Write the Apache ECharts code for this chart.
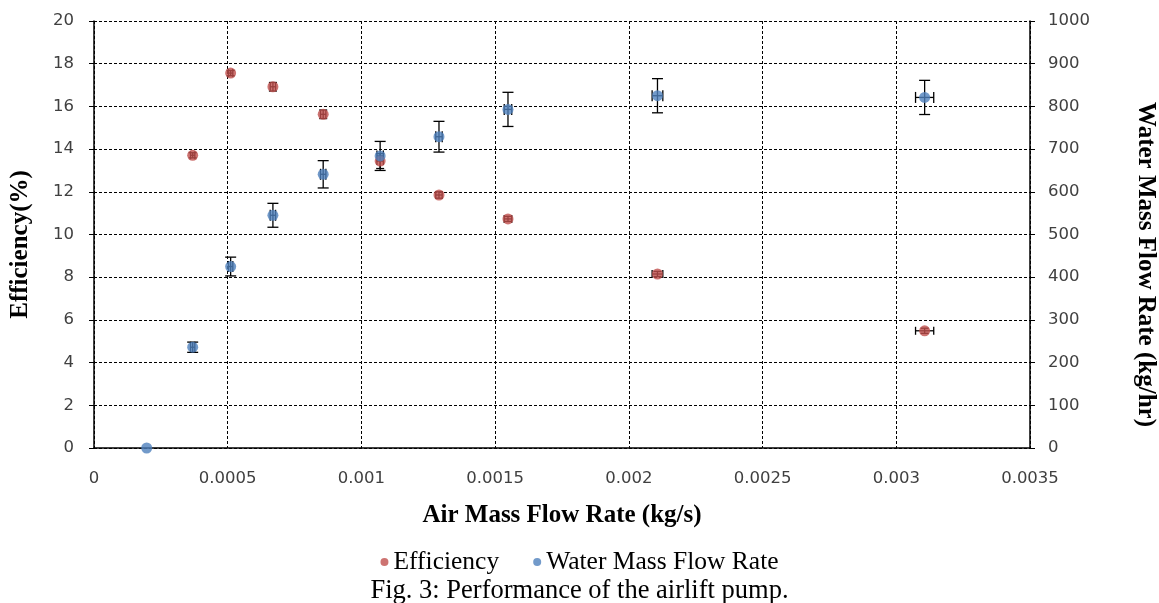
<!DOCTYPE html>
<html>
<head>
<meta charset="utf-8">
<script src="https://cdn.jsdelivr.net/npm/echarts@6/dist/echarts.min.js"></script>
<style>html,body{margin:0;padding:0;background:#fff}#c{width:1159px;height:603px}</style>
</head>
<body>
<div id="c"></div>
<script>
// Air mass flow rate (kg/s)
const airFlow = [0.000197, 0.000369, 0.000511, 0.000669, 0.000857, 0.00107, 0.00129, 0.001548, 0.002107, 0.003106];
const airFlowErr = [0.000008, 0.000008, 0.000008, 0.000010, 0.000010, 0.000012, 0.000012, 0.000014, 0.00002, 0.000034];
// Efficiency (%) – no visible point at the first flow rate
const efficiency = [null, 13.71, 17.56, 16.92, 15.63, 13.44, 11.85, 10.73, 8.15, 5.49];
const efficiencyErr = [null, 0.12, 0.12, 0.2, 0.2, 0.35, 0.15, 0.12, 0.12, 0.12];
// Water mass flow rate (kg/hr)
const waterFlow = [0, 236, 425, 545, 641, 684, 729, 793, 825, 821];
const waterFlowErr = [0, 12, 22, 28, 32, 34, 36, 40, 40, 40];

const effData = [], effErrData = [], watData = [], watErrData = [];
airFlow.forEach((x, i) => {
  if (efficiency[i] !== null) {
    effData.push([x, efficiency[i]]);
    effErrData.push([x, efficiency[i], airFlowErr[i], efficiencyErr[i]]);
  }
  watData.push([x, waterFlow[i]]);
  if (i > 0) watErrData.push([x, waterFlow[i], airFlowErr[i], waterFlowErr[i]]);
});

function makeErrorBars(cap) {
  return function (params, api) {
    const x = api.value(0), y = api.value(1), ex = api.value(2), ey = api.value(3);
    const c = api.coord([x, y]);
    const top = api.coord([x, y + ey]);
    const bot = api.coord([x, y - ey]);
    const lft = api.coord([x - ex, y]);
    const rgt = api.coord([x + ex, y]);
    const st = {stroke: '#000', lineWidth: 1.3};
    return {type: 'group', children: [
      {type: 'line', shape: {x1: c[0], y1: top[1], x2: c[0], y2: bot[1]}, style: st},
      {type: 'line', shape: {x1: c[0] - cap, y1: top[1], x2: c[0] + cap, y2: top[1]}, style: st},
      {type: 'line', shape: {x1: c[0] - cap, y1: bot[1], x2: c[0] + cap, y2: bot[1]}, style: st},
      {type: 'line', shape: {x1: lft[0], y1: c[1], x2: rgt[0], y2: c[1]}, style: st},
      {type: 'line', shape: {x1: lft[0], y1: c[1] - cap, x2: lft[0], y2: c[1] + cap}, style: st},
      {type: 'line', shape: {x1: rgt[0], y1: c[1] - cap, x2: rgt[0], y2: c[1] + cap}, style: st}
    ]};
  };
}

const chart = echarts.init(document.getElementById('c'), null, {renderer: 'canvas'});
const gridLine = {show: true, lineStyle: {color: '#000', type: [3, 2], width: 1}};
const tickFont = {fontFamily: 'DejaVu Sans', fontSize: 16.5, color: '#404040'};
const titleFont = {fontFamily: 'Liberation Serif', fontSize: 25, fontWeight: 'bold', color: '#000'};
chart.setOption({
  animation: false,
  backgroundColor: '#fff',
  title: {
    text: 'Fig. 3: Performance of the airlift pump.',
    left: 'center', top: 573,
    textStyle: {fontFamily: 'Liberation Serif', fontSize: 26.5, fontWeight: 'normal', color: '#000'}
  },
  legend: {
    top: 544, left: 'center',
    itemWidth: 8, itemHeight: 8, itemGap: 34,
    icon: 'circle',
    data: ['Efficiency', 'Water Mass Flow Rate'],
    textStyle: {fontFamily: 'Liberation Serif', fontSize: 25.5, color: '#000', padding: [0, 0, 0, 0]}
  },
  grid: {left: 94, right: 129, top: 21, bottom: 155, containLabel: false, outerBoundsMode: 'none'},
  xAxis: {
    type: 'value', min: 0, max: 0.0035, interval: 0.0005,
    name: 'Air Mass Flow Rate (kg/s)', nameLocation: 'middle', nameGap: 55,
    nameTextStyle: titleFont,
    axisLine: {show: true, lineStyle: {color: '#000', width: 1.5}},
    axisTick: {show: false},
    axisLabel: Object.assign({margin: 22, formatter: v => String(parseFloat(v.toFixed(4)))}, tickFont),
    splitLine: gridLine
  },
  yAxis: [{
    type: 'value', min: 0, max: 20, interval: 2,
    name: 'Efficiency(%)', nameLocation: 'middle', nameGap: 61,
    nameTextStyle: Object.assign({padding: [0, 20, 0, 0]}, titleFont),
    axisLine: {show: true, lineStyle: {color: '#000', width: 1.5}},
    axisTick: {show: true, length: 5, lineStyle: {color: '#000'}},
    axisLabel: Object.assign({margin: 20}, tickFont),
    splitLine: gridLine
  }, {
    type: 'value', min: 0, max: 1000, interval: 100, position: 'right',
    name: 'Water Mass Flow Rate (kg/hr)', nameLocation: 'middle', nameGap: 103, nameRotate: -90,
    nameTextStyle: Object.assign({padding: [0, 0, 0, 60]}, titleFont),
    axisLine: {show: true, lineStyle: {color: '#000', width: 1.5}},
    axisTick: {show: true, length: 5, lineStyle: {color: '#000'}},
    axisLabel: Object.assign({margin: 18, formatter: v => String(v)}, tickFont),
    splitLine: {show: false}
  }],
  series: [
    {type: 'custom', name: 'effErr', yAxisIndex: 0, renderItem: makeErrorBars(4), data: effErrData, z: 3, silent: true},
    {type: 'custom', name: 'watErr', yAxisIndex: 1, renderItem: makeErrorBars(5.5), data: watErrData, z: 3, silent: true},
    {type: 'scatter', name: 'Efficiency', yAxisIndex: 0, data: effData, symbolSize: 11,
     itemStyle: {color: '#C0504D'}, z: 4},
    {type: 'scatter', name: 'Water Mass Flow Rate', yAxisIndex: 1, data: watData, symbolSize: 11,
     itemStyle: {color: '#4F81BD'}, z: 5}
  ]
});
</script>
</body>
</html>
